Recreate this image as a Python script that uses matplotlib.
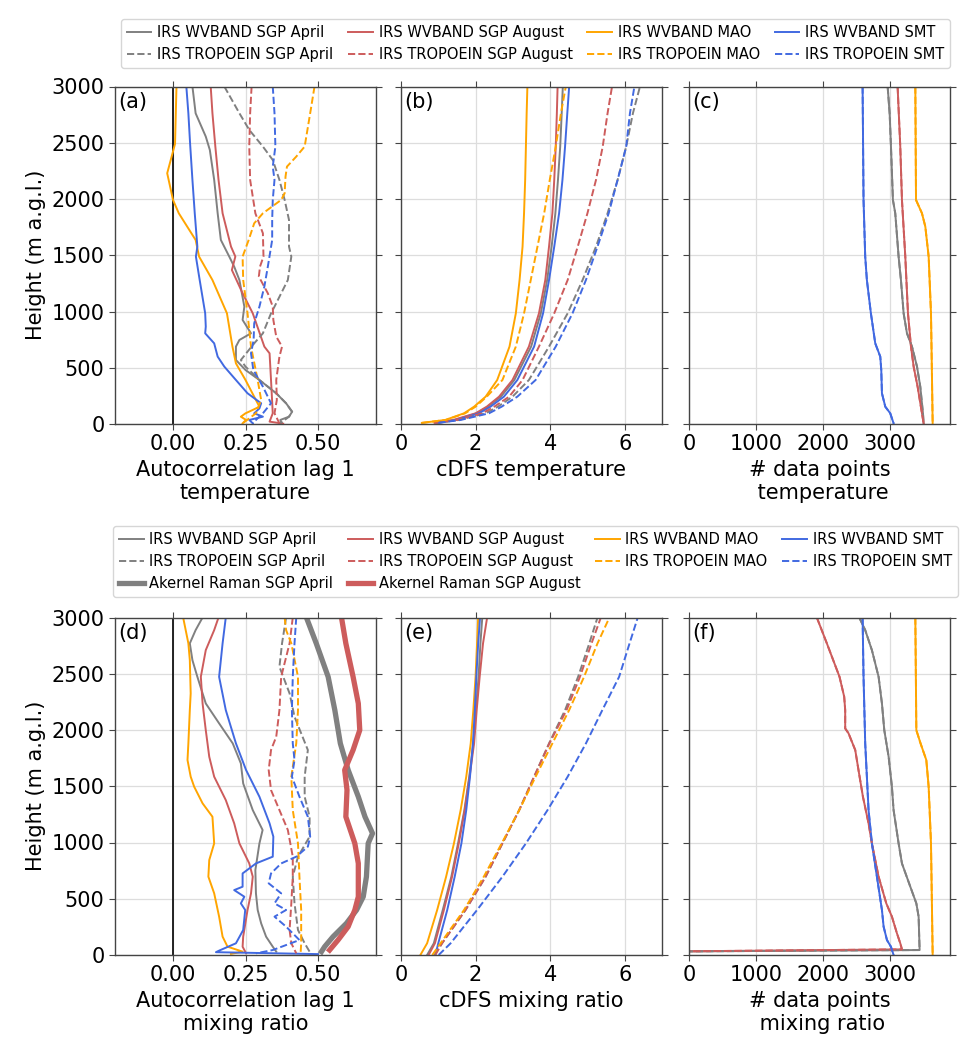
import matplotlib
matplotlib.use("Agg")
import matplotlib.pyplot as plt
from matplotlib.lines import Line2D

plt.rcParams['font.family'] = ['DejaVu Sans']

# ---------------- colours / labels ----------------
site_colors = {"SGP April": "grey", "SGP August": "indianred", "MAO": "orange", "SMT": "royalblue"}
sites = ["SGP April", "SGP August", "MAO", "SMT"]

# ---------------- panel (a): autocorrelation lag 1, temperature ----------------
a_wv_h = {
    "SGP April": [3000, 2762, 2555, 2436, 2170, 1873, 1636, 1488, 1399, 1280, 1043, 925, 806, 747, 688, 569, 480, 391, 273, 184, 110, 65, 36, 6],
    "SGP August": [3000, 2762, 2466, 2170, 1873, 1577, 1488, 1369, 1162, 984, 688, 628, 391, 95, 21, 3],
    "MAO": [3000, 2490, 2229, 1992, 1873, 1636, 1488, 1280, 984, 688, 539, 391, 213, 154, 125, 95, 65, 36, 6],
    "SMT": [3000, 2762, 2490, 2170, 1873, 1577, 1488, 1280, 984, 866, 806, 717, 599, 510, 391, 273, 184, 139, 95, 65, 36, 6],
}
a_wv_v = {
    "SGP April": [0.067, 0.078, 0.113, 0.127, 0.142, 0.154, 0.165, 0.194, 0.211, 0.229, 0.246, 0.24, 0.269, 0.229, 0.217, 0.217, 0.25, 0.298, 0.356, 0.39, 0.411, 0.40, 0.37, 0.375],
    "SGP August": [0.130, 0.136, 0.146, 0.157, 0.171, 0.2, 0.215, 0.203, 0.240, 0.275, 0.315, 0.333, 0.338, 0.344, 0.333, 0.38],
    "MAO": [0.012, 0.007, -0.02, 0.0, 0.02, 0.078, 0.09, 0.136, 0.186, 0.205, 0.217, 0.25, 0.286, 0.298, 0.275, 0.25, 0.234, 0.252, 0.24],
    "SMT": [0.046, 0.053, 0.059, 0.067, 0.075, 0.084, 0.079, 0.092, 0.111, 0.113, 0.111, 0.142, 0.154, 0.177, 0.217, 0.257, 0.304, 0.298, 0.28, 0.31, 0.263, 0.275],
}
a_tr_h = {
    "SGP April": [3000, 2762, 2614, 2466, 2347, 2170, 1992, 1814, 1577, 1488, 1280, 1043, 984, 806, 717, 569, 510, 391, 273, 184, 110, 65, 6],
    "SGP August": [3000, 2762, 2466, 2170, 1873, 1695, 1488, 1399, 1310, 1162, 1043, 925, 777, 688, 599, 391, 213, 95, 6],
    "MAO": [3000, 2762, 2466, 2377, 2288, 2199, 2051, 1992, 1873, 1784, 1636, 1488, 1280, 984, 688, 391, 213, 95, 6],
    "SMT": [3000, 2762, 2466, 2288, 2170, 1992, 1814, 1636, 1399, 1221, 1043, 895, 747, 628, 480, 332, 184, 95, 36, 6],
}
a_tr_v = {
    "SGP April": [0.177, 0.229, 0.263, 0.31, 0.344, 0.367, 0.385, 0.40, 0.40, 0.408, 0.396, 0.35, 0.338, 0.31, 0.28, 0.234, 0.25, 0.298, 0.356, 0.39, 0.41, 0.40, 0.37],
    "SGP August": [0.271, 0.266, 0.263, 0.266, 0.284, 0.31, 0.312, 0.30, 0.296, 0.327, 0.344, 0.346, 0.356, 0.376, 0.367, 0.356, 0.358, 0.35, 0.367],
    "MAO": [0.488, 0.473, 0.454, 0.425, 0.393, 0.388, 0.385, 0.373, 0.31, 0.28, 0.261, 0.24, 0.242, 0.257, 0.269, 0.292, 0.304, 0.286, 0.24],
    "SMT": [0.344, 0.35, 0.353, 0.344, 0.35, 0.344, 0.342, 0.342, 0.327, 0.315, 0.298, 0.28, 0.278, 0.269, 0.277, 0.31, 0.338, 0.31, 0.286, 0.275],
}

# ---------------- panel (b): cDFS temperature ----------------
b_h = [10, 36, 95, 154, 243, 391, 688, 984, 1280, 1577, 1873, 2170, 2466, 2762, 3000]
b_wv_v = {
    "SGP April": [0.95, 1.45, 2.03, 2.33, 2.68, 3.04, 3.49, 3.75, 3.92, 4.04, 4.14, 4.21, 4.27, 4.31, 4.34],
    "SGP August": [0.9, 1.4, 2.0, 2.3, 2.63, 2.99, 3.43, 3.70, 3.87, 3.97, 4.06, 4.11, 4.15, 4.18, 4.2],
    "MAO": [0.56, 1.19, 1.69, 1.96, 2.27, 2.58, 2.91, 3.08, 3.18, 3.26, 3.30, 3.33, 3.35, 3.37, 3.39],
    "SMT": [1.0, 1.5, 2.09, 2.4, 2.76, 3.12, 3.57, 3.81, 3.97, 4.11, 4.24, 4.33, 4.40, 4.46, 4.51],
}
b_tr_v = {
    "SGP April": [0.95, 1.55, 2.27, 2.6, 2.99, 3.43, 3.97, 4.47, 4.87, 5.23, 5.54, 5.81, 6.04, 6.22, 6.41],
    "SGP August": [0.9, 1.5, 2.18, 2.5, 2.9, 3.26, 3.70, 4.11, 4.47, 4.74, 5.0, 5.23, 5.41, 5.54, 5.66],
    "MAO": [0.56, 1.2, 1.72, 2.0, 2.3, 2.72, 3.08, 3.30, 3.48, 3.66, 3.84, 3.99, 4.15, 4.29, 4.42],
    "SMT": [1.0, 1.6, 2.36, 2.7, 3.12, 3.61, 4.15, 4.6, 4.96, 5.27, 5.57, 5.81, 6.04, 6.14, 6.26],
}

# ---------------- panel (c): number of data points temperature ----------------
c_h = {
    "SGP April": [3000, 2762, 2466, 1992, 1873, 1488, 1280, 984, 806, 688, 510, 332, 95, 6],
    "SGP August": [3000, 2466, 1992, 1488, 984, 688, 510, 332, 95, 6],
    "MAO": [3000, 1992, 1873, 1755, 1488, 984, 6],
    "SMT": [3000, 1992, 1488, 1280, 984, 717, 599, 480, 273, 154, 95, 6],
}
c_v = {
    "SGP April": [2968, 2998, 3018, 3047, 3082, 3132, 3167, 3207, 3257, 3332, 3407, 3456, 3496, 3506],
    "SGP August": [3117, 3157, 3182, 3232, 3272, 3317, 3357, 3416, 3481, 3506],
    "MAO": [3382, 3392, 3481, 3531, 3581, 3616, 3641],
    "SMT": [2594, 2608, 2633, 2658, 2718, 2783, 2858, 2873, 2883, 2933, 3007, 3057],
}

# ---------------- panel (d): autocorrelation lag 1, mixing ratio ----------------
d_wv_h = {
    "SGP April": [3000, 2888, 2770, 2621, 2473, 2236, 2059, 1881, 1703, 1525, 1288, 1111, 992, 755, 548, 400, 281, 163, 74, 30],
    "SGP August": [3000, 2888, 2710, 2473, 2236, 1999, 1762, 1585, 1377, 1170, 992, 814, 696, 548, 400, 163, 74, 15],
    "MAO": [3000, 2770, 2621, 2325, 2177, 1881, 1733, 1585, 1496, 1348, 1229, 992, 844, 696, 548, 341, 163, 74, 30, 10],
    "SMT": [3000, 2770, 2473, 2177, 1881, 1644, 1407, 1170, 1052, 874, 814, 725, 607, 577, 518, 459, 400, 222, 104, 40, 25, 8],
}
d_wv_v = {
    "SGP April": [0.102, 0.078, 0.058, 0.067, 0.084, 0.113, 0.159, 0.206, 0.234, 0.242, 0.275, 0.309, 0.298, 0.284, 0.286, 0.292, 0.304, 0.321, 0.344, 0.356],
    "SGP August": [0.157, 0.142, 0.113, 0.096, 0.102, 0.113, 0.125, 0.142, 0.182, 0.211, 0.229, 0.263, 0.275, 0.269, 0.257, 0.242, 0.240, 0.252],
    "MAO": [0.035, 0.053, 0.058, 0.061, 0.058, 0.053, 0.05, 0.061, 0.073, 0.102, 0.136, 0.142, 0.125, 0.122, 0.142, 0.159, 0.171, 0.188, 0.24, 0.2],
    "SMT": [0.182, 0.171, 0.159, 0.182, 0.217, 0.252, 0.298, 0.333, 0.346, 0.344, 0.286, 0.24, 0.24, 0.211, 0.246, 0.234, 0.249, 0.242, 0.217, 0.16, 0.148, 0.5],
}
d_tr_h = {
    "SGP April": [3000, 2770, 2562, 2325, 2118, 1822, 1585, 1407, 1229, 1052, 874, 696, 459, 222, 104, 30],
    "SGP August": [3000, 2770, 2473, 2177, 1940, 1822, 1644, 1466, 1288, 1111, 874, 696, 459, 222, 104, 15],
    "MAO": [3000, 2888, 2770, 2473, 2177, 1881, 1585, 1288, 992, 696, 400, 104, 15],
    "SMT": [3000, 2770, 2473, 2177, 1881, 1733, 1585, 1407, 1229, 1052, 963, 874, 814, 725, 637, 548, 459, 400, 341, 252, 133, 44, 15],
}
d_tr_v = {
    "SGP April": [0.39, 0.376, 0.367, 0.402, 0.419, 0.465, 0.454, 0.454, 0.471, 0.471, 0.431, 0.413, 0.419, 0.431, 0.454, 0.471],
    "SGP August": [0.413, 0.402, 0.373, 0.367, 0.356, 0.338, 0.330, 0.338, 0.367, 0.396, 0.413, 0.413, 0.408, 0.402, 0.408, 0.425],
    "MAO": [0.385, 0.39, 0.408, 0.431, 0.431, 0.425, 0.408, 0.413, 0.431, 0.436, 0.442, 0.442, 0.44],
    "SMT": [0.425, 0.419, 0.413, 0.41, 0.413, 0.419, 0.41, 0.436, 0.465, 0.473, 0.465, 0.425, 0.373, 0.338, 0.33, 0.373, 0.35, 0.39, 0.35, 0.39, 0.436, 0.344, 0.286],
}
d_ak_h = {
    "SGP April": [3000, 2770, 2473, 2177, 1881, 1644, 1407, 1229, 1081, 992, 696, 518, 400, 281, 163, 74, 30],
    "SGP August": [3000, 2770, 2473, 2236, 1999, 1822, 1644, 1466, 1229, 992, 814, 518, 400, 252, 133, 44],
}
d_ak_v = {
    "SGP April": [0.46, 0.494, 0.535, 0.558, 0.577, 0.604, 0.639, 0.662, 0.688, 0.673, 0.667, 0.656, 0.633, 0.598, 0.552, 0.523, 0.512],
    "SGP August": [0.581, 0.596, 0.621, 0.639, 0.644, 0.621, 0.592, 0.6, 0.596, 0.627, 0.639, 0.639, 0.627, 0.604, 0.569, 0.540],
}

# ---------------- panel (e): cDFS mixing ratio ----------------
e_h = [0, 104, 400, 696, 992, 1288, 1585, 1881, 2177, 2473, 2770, 3000]
e_wv_v = {
    "SGP April": [0.7, 0.88, 1.12, 1.35, 1.53, 1.70, 1.83, 1.94, 2.01, 2.08, 2.13, 2.18],
    "SGP August": [0.74, 0.91, 1.15, 1.37, 1.55, 1.71, 1.84, 1.96, 2.03, 2.11, 2.2, 2.31],
    "MAO": [0.52, 0.70, 0.97, 1.21, 1.42, 1.60, 1.75, 1.87, 1.94, 2.0, 2.04, 2.07],
    "SMT": [0.92, 1.0, 1.24, 1.44, 1.62, 1.75, 1.85, 1.93, 1.98, 2.02, 2.07, 2.12],
}
e_tr_v = {
    "SGP April": [0.9, 1.1, 1.73, 2.27, 2.72, 3.17, 3.57, 3.97, 4.40, 4.75, 5.05, 5.27],
    "SGP August": [0.92, 1.1, 1.73, 2.27, 2.72, 3.17, 3.57, 3.98, 4.44, 4.80, 5.11, 5.36],
    "MAO": [0.84, 1.06, 1.69, 2.22, 2.70, 3.17, 3.61, 4.06, 4.51, 4.91, 5.27, 5.59],
    "SMT": [1.01, 1.33, 2.04, 2.72, 3.35, 3.93, 4.47, 4.96, 5.40, 5.85, 6.13, 6.35],
}

# ---------------- panel (f): number of data points mixing ratio ----------------
f_h = {
    "SGP April": [3000, 2888, 2710, 2473, 2236, 1999, 1762, 1496, 1288, 992, 814, 607, 459, 341, 44, 32],
    "SGP August": [3000, 2770, 2473, 2296, 2177, 2014, 1970, 1822, 1585, 1407, 1170, 992, 696, 459, 341, 193, 104, 50, 33],
    "MAO": [3000, 1999, 1881, 1733, 1496, 992, 0],
    "SMT": [3000, 2473, 1881, 1585, 1288, 992, 696, 400, 252, 133, 74, 0],
}
f_v = {
    "SGP April": [2544, 2633, 2733, 2833, 2883, 2918, 2983, 3032, 3057, 3132, 3182, 3307, 3397, 3431, 3446, 0],
    "SGP August": [1910, 2060, 2249, 2319, 2334, 2334, 2384, 2484, 2549, 2599, 2683, 2733, 2833, 2948, 3032, 3107, 3157, 3182, 0],
    "MAO": [3382, 3397, 3460, 3546, 3581, 3616, 3641],
    "SMT": [2594, 2608, 2633, 2658, 2683, 2733, 2808, 2883, 2908, 2958, 3017, 3057],
}

# ---------------- ticks / labels ----------------
y_ticks = [0, 500, 1000, 1500, 2000, 2500, 3000]
acf_ticks = [0.0, 0.25, 0.5]
acf_ticklabels = ["0.00", "0.25", "0.50"]
dfs_ticks = [0, 2, 4, 6]
npts_ticks = [0, 1000, 2000, 3000]

LW = 1.4
LWK = 3.8
FS = 15

W, H = 973, 1059
fig = plt.figure(figsize=(W / 100, H / 100), dpi=100)

col_x = [115 / W, 401 / W, 689 / W]
col_w = 261 / W
row_top = [(H - 424) / H, (H - 955) / H]
row_h = 337.5 / H

axes = []
for r in range(2):
    for c in range(3):
        ax = fig.add_axes([col_x[c], row_top[r], col_w, row_h])
        axes.append(ax)

def style(ax):
    ax.set_ylim(0, 3000)
    ax.set_yticks(y_ticks)
    ax.grid(True, color="#dddddd", lw=0.9)
    ax.set_axisbelow(True)
    for s in ax.spines.values():
        s.set_color("#444444")
        s.set_linewidth(1.0)
    ax.tick_params(axis="both", which="both", direction="out", top=True, right=True,
                   labelsize=FS, color="#444444", length=4)

def plot_pair(ax, h_wv, v_wv, h_tr, v_tr):
    for s in sites:
        ax.plot(v_wv[s], h_wv[s] if isinstance(h_wv, dict) else h_wv, color=site_colors[s], lw=LW, ls="-")
    for s in sites:
        ax.plot(v_tr[s], h_tr[s] if isinstance(h_tr, dict) else h_tr, color=site_colors[s], lw=LW, ls="--")

ax_a, ax_b, ax_c, ax_d, ax_e, ax_f = axes

# (a)
ax_a.axvline(0, color="black", lw=1.2)
plot_pair(ax_a, a_wv_h, a_wv_v, a_tr_h, a_tr_v)
ax_a.set_xlim(-0.2, 0.7)
ax_a.set_xticks(acf_ticks)
ax_a.set_xticklabels(acf_ticklabels)
ax_a.set_xlabel("Autocorrelation lag 1\ntemperature", fontsize=FS)

# (b)
plot_pair(ax_b, b_h, b_wv_v, b_h, b_tr_v)
ax_b.set_xlim(0, 7)
ax_b.set_xticks(dfs_ticks)
ax_b.set_xlabel("cDFS temperature", fontsize=FS)

# (c)
plot_pair(ax_c, c_h, c_v, c_h, c_v)
ax_c.set_xlim(0, 3900)
ax_c.set_xticks(npts_ticks)
ax_c.set_xlabel("# data points\n temperature", fontsize=FS)

# (d)
ax_d.axvline(0, color="black", lw=1.2)
plot_pair(ax_d, d_wv_h, d_wv_v, d_tr_h, d_tr_v)
for s in ["SGP April", "SGP August"]:
    ax_d.plot(d_ak_v[s], d_ak_h[s], color=site_colors[s], lw=LWK, ls="-")
ax_d.set_xlim(-0.2, 0.7)
ax_d.set_xticks(acf_ticks)
ax_d.set_xticklabels(acf_ticklabels)
ax_d.set_xlabel("Autocorrelation lag 1\nmixing ratio", fontsize=FS)

# (e)
plot_pair(ax_e, e_h, e_wv_v, e_h, e_tr_v)
ax_e.set_xlim(0, 7)
ax_e.set_xticks(dfs_ticks)
ax_e.set_xlabel("cDFS mixing ratio", fontsize=FS)

# (f)
plot_pair(ax_f, f_h, f_v, f_h, f_v)
ax_f.set_xlim(0, 3900)
ax_f.set_xticks(npts_ticks)
ax_f.set_xlabel("# data points\n mixing ratio", fontsize=FS)

for ax, lab in zip(axes, ["(a)", "(b)", "(c)", "(d)", "(e)", "(f)"]):
    style(ax)
    ax.text(0.012, 0.985, lab, transform=ax.transAxes, ha="left", va="top", fontsize=FS)

for ax in [ax_b, ax_c, ax_e, ax_f]:
    ax.set_yticklabels([])
for ax in [ax_a, ax_d]:
    ax.set_ylabel("Height (m a.g.l.)", fontsize=FS)

# legends
wv_names = {s: "IRS WVBAND " + s for s in sites}
tr_names = {s: "IRS TROPOEIN " + s for s in sites}
ak_names = {"SGP April": "Akernel Raman SGP April", "SGP August": "Akernel Raman SGP August"}

leg_kw = dict(ncol=4, loc="upper center", fontsize=10.5, handlelength=1.7,
              columnspacing=1.0, handletextpad=0.4, borderaxespad=0.0,
              labelspacing=0.5)

h1, l1 = [], []
for s in sites:
    h1 += [Line2D([], [], color=site_colors[s], lw=LW, ls="-"), Line2D([], [], color=site_colors[s], lw=LW, ls="--")]
    l1 += [wv_names[s], tr_names[s]]
fig.legend(h1, l1, bbox_to_anchor=(535.5 / W, 1 - 19 / H), **leg_kw)

h2, l2 = [], []
for s in sites:
    h2 += [Line2D([], [], color=site_colors[s], lw=LW, ls="-"), Line2D([], [], color=site_colors[s], lw=LW, ls="--")]
    l2 += [wv_names[s], tr_names[s]]
    if s in ak_names:
        h2.append(Line2D([], [], color=site_colors[s], lw=LWK, ls="-"))
        l2.append(ak_names[s])
fig.legend(h2, l2, bbox_to_anchor=(535.5 / W, 1 - 526 / H), **leg_kw)

fig.savefig("out.png", dpi=100)
